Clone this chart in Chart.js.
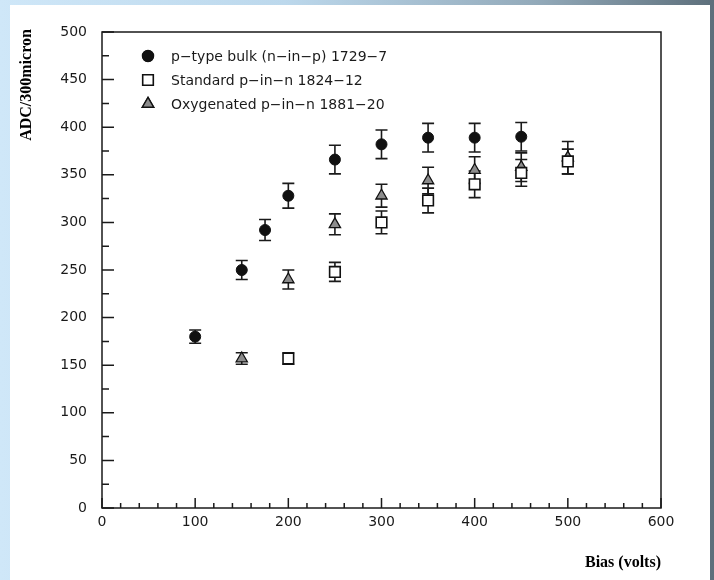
<!DOCTYPE html>
<html>
<head>
<meta charset="utf-8">
<script src="https://cdn.jsdelivr.net/npm/chart.js@4.4.1/dist/chart.umd.min.js"></script>
<style>
  html, body { margin: 0; padding: 0; }
  body {
    width: 714px; height: 580px; overflow: hidden; position: relative;
    background: linear-gradient(to right, #cfe7f8 0%, #bcd8ec 40%, #93aaba 75%, #5d6f7b 100%);
  }
  #panel { position: absolute; left: 10px; top: 5px; width: 700px; height: 575px; background: #fff; }
</style>
</head>
<body>
<div id="panel"><canvas id="myChart"></canvas></div>
<script>
// bias voltages (volts), ADC values and errors per sample
const pTypeBias = [100, 150, 175, 200, 250, 300, 350, 400, 450];
const pTypeADC  = [180, 250, 292, 328, 366, 382, 389, 389, 390];
const pTypeErr  = [7, 10, 11, 13, 15, 15, 15, 15, 15];

const stdBias = [200, 250, 300, 350, 400, 450, 500];
const stdADC  = [157, 248, 300, 323, 340, 352, 364];
const stdErr  = [6, 10, 12, 13, 14, 14, 13];

const oxyBias = [150, 200, 250, 300, 350, 400, 450, 500];
const oxyADC  = [157, 240, 298, 328, 344, 355, 358, 368];
const oxyErr  = [6, 10, 11, 12, 14, 14, 15, 17];

const seriesNames = [
  'p\u2212type bulk (n\u2212in\u2212p) 1729\u22127',
  'Standard p\u2212in\u2212n 1824\u221212',
  'Oxygenated p\u2212in\u2212n 1881\u221220'
];

const xTicks = [0, 100, 200, 300, 400, 500, 600];
const yTicks = [0, 50, 100, 150, 200, 250, 300, 350, 400, 450, 500];

const tickFont = { family: 'DejaVu Sans', size: 14 };
const ink = '#1a1a1a';

function points(xs, ys) {
  return xs.map((x, i) => ({ x: x, y: ys[i] }));
}

// vertical error bars with caps, drawn under the markers
const errorBars = {
  id: 'errorBars',
  beforeDatasetsDraw(chart) {
    const ctx = chart.ctx;
    const ys = chart.scales.y;
    ctx.save();
    ctx.strokeStyle = ink;
    ctx.lineWidth = 1.6;
    chart.data.datasets.forEach((ds, di) => {
      const meta = chart.getDatasetMeta(di);
      meta.data.forEach((pt, i) => {
        const v = ds.data[i].y, e = ds.errors[i];
        const top = ys.getPixelForValue(v + e), bot = ys.getPixelForValue(v - e);
        ctx.beginPath();
        ctx.moveTo(pt.x, top); ctx.lineTo(pt.x, bot);
        ctx.moveTo(pt.x - 6, top); ctx.lineTo(pt.x + 6, top);
        ctx.moveTo(pt.x - 6, bot); ctx.lineTo(pt.x + 6, bot);
        ctx.stroke();
      });
    });
    ctx.restore();
  }
};

// frame, inward major/minor ticks, titles and legend
const decorations = {
  id: 'decorations',
  afterDraw(chart) {
    const ctx = chart.ctx;
    const a = chart.chartArea;
    const xs = chart.scales.x, ys = chart.scales.y;
    ctx.save();
    ctx.strokeStyle = ink;
    ctx.lineWidth = 1.5;
    ctx.strokeRect(a.left, a.top, a.right - a.left, a.bottom - a.top);

    ctx.beginPath();
    for (let v = 0; v <= 600; v += 20) {
      const px = xs.getPixelForValue(v);
      const len = v % 100 === 0 ? 10 : 5;
      ctx.moveTo(px, a.bottom); ctx.lineTo(px, a.bottom - len);
    }
    for (let v = 0; v <= 500; v += 25) {
      const py = ys.getPixelForValue(v);
      const len = v % 50 === 0 ? 12 : 7;
      ctx.moveTo(a.left, py); ctx.lineTo(a.left + len, py);
    }
    ctx.stroke();

    // axis titles
    ctx.fillStyle = '#000';
    ctx.font = 'bold 16px "Liberation Serif"';
    ctx.textBaseline = 'middle';
    ctx.textAlign = 'right';
    ctx.fillText('Bias (volts)', a.right, 558);
    ctx.save();
    ctx.translate(17, 80);
    ctx.rotate(-Math.PI / 2);
    ctx.textAlign = 'center';
    ctx.fillText('ADC/300micron', 0, 0);
    ctx.restore();

    // legend inside the frame
    ctx.font = '14px "DejaVu Sans"';
    ctx.textAlign = 'left';
    ctx.fillStyle = ink;
    chart.data.datasets.forEach((ds, i) => {
      const y = 51 + i * 24;
      Chart.helpers.drawPoint(ctx, {
        pointStyle: ds.pointStyle, radius: ds.pointRadius, rotation: 0,
        borderWidth: ds.borderWidth
      }, 138, y);
      ctx.fillStyle = ds.backgroundColor;
      ctx.strokeStyle = ds.borderColor;
      ctx.lineWidth = ds.borderWidth;
      ctx.fill();
      ctx.stroke();
      ctx.fillStyle = ink;
      ctx.fillText(ds.label, 161, y + 1);
    });
    ctx.restore();
  }
};

const ctx = document.getElementById('myChart').getContext('2d');
const chart = new Chart(ctx, {
  type: 'scatter',
  data: {
    datasets: [{
      label: seriesNames[0],
      data: points(pTypeBias, pTypeADC),
      errors: pTypeErr,
      pointStyle: 'circle',
      pointRadius: 5.5,
      backgroundColor: '#111',
      borderColor: '#111',
      borderWidth: 1
    }, {
      label: seriesNames[1],
      data: points(stdBias, stdADC),
      errors: stdErr,
      pointStyle: 'rect',
      pointRadius: 7.5,
      backgroundColor: '#fff',
      borderColor: '#111',
      borderWidth: 1.6
    }, {
      label: seriesNames[2],
      data: points(oxyBias, oxyADC),
      errors: oxyErr,
      pointStyle: 'triangle',
      pointRadius: 6.5,
      backgroundColor: '#8c8c8c',
      borderColor: '#111',
      borderWidth: 1.3
    }]
  },
  options: {
    responsive: true,
    maintainAspectRatio: false,
    animation: false,
    events: [],
    layout: { padding: { top: 27, right: 49, left: 0, bottom: 0 } },
    plugins: { legend: { display: false }, tooltip: { enabled: false } },
    scales: {
      x: {
        type: 'linear', min: 0, max: 600,
        afterBuildTicks: s => { s.ticks = xTicks.map(v => ({ value: v })); },
        afterFit: s => { s.height = 72; s.paddingLeft = 0; s.paddingRight = 0; },
        grid: { display: false, drawTicks: false },
        border: { display: false },
        ticks: { font: tickFont, color: ink, padding: 6, maxRotation: 0 }
      },
      y: {
        type: 'linear', min: 0, max: 500,
        afterBuildTicks: s => { s.ticks = yTicks.map(v => ({ value: v })); },
        afterFit: s => { s.width = 92; s.paddingTop = 0; s.paddingBottom = 0; },
        grid: { display: false, drawTicks: false },
        border: { display: false },
        ticks: { font: tickFont, color: ink, padding: 15 }
      }
    }
  },
  plugins: [errorBars, decorations]
});
</script>
</body>
</html>
